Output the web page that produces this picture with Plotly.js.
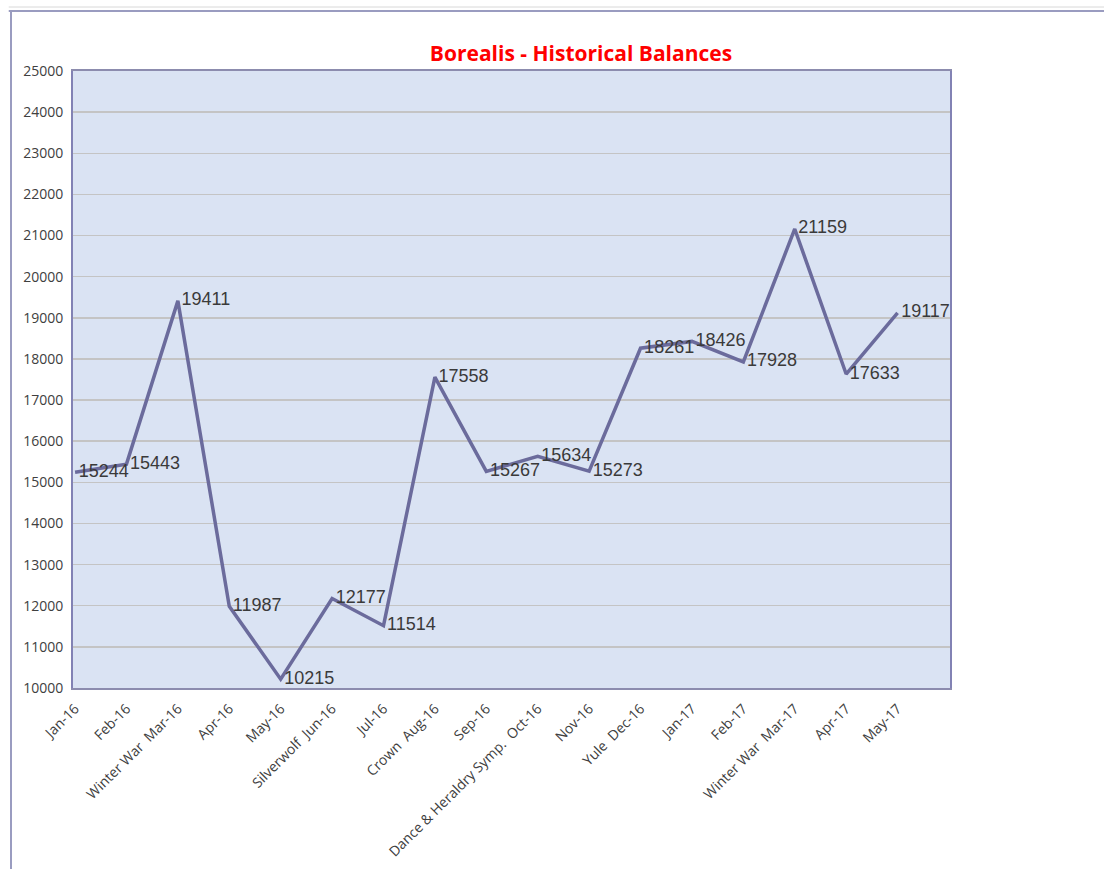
<!DOCTYPE html>
<html>
<head>
<meta charset="utf-8">
<script src="https://cdn.plot.ly/plotly-3.0.1.min.js"></script>
<style>
html, body { margin: 0; padding: 0; background: #ffffff; }
#chart { width: 1104px; height: 869px; }
</style>
</head>
<body>
<div id="chart"></div>
<script>
var categories = ["Jan-16", "Feb-16", "Winter War  Mar-16", "Apr-16", "May-16", "Silverwolf  Jun-16",
  "Jul-16", "Crown  Aug-16", "Sep-16", "Dance & Heraldry Symp.  Oct-16", "Nov-16", "Yule  Dec-16",
  "Jan-17", "Feb-17", "Winter War  Mar-17", "Apr-17", "May-17"];
var balances = [15244, 15443, 19411, 11987, 10215, 12177, 11514, 17558, 15267, 15634, 15273, 18261,
  18426, 17928, 21159, 17633, 19117];
var labels = balances.map(function (v) { return "\u2009" + String(v); });

var trace = {
  type: "scatter",
  mode: "lines+text",
  x: categories,
  y: balances,
  text: labels,
  textposition: "middle right",
  textfont: { family: "Liberation Sans, Arial, sans-serif", size: 18, color: "#3a3a3a" },
  line: { color: "#6b6b9c", width: 3.5 },
  cliponaxis: false,
  hoverinfo: "x+y"
};

var layout = {
  width: 1104,
  height: 869,
  margin: { l: 73, r: 154, t: 71, b: 181 },
  paper_bgcolor: "#ffffff",
  plot_bgcolor: "#dae3f3",
  showlegend: false,
  title: {
    text: "Borealis - Historical Balances",
    font: { family: "Open Sans, Arial, sans-serif", size: 21, color: "#ff0000", weight: "bold" },
    xref: "container", yref: "container",
    x: 581 / 1104, xanchor: "center",
    y: 1 - 54 / 869, yanchor: "middle"
  },
  xaxis: {
    type: "category",
    range: [-0.04, 17.02],
    tickangle: -45,
    showgrid: false,
    zeroline: false,
    showline: true,
    linecolor: "#8c8cae",
    linewidth: 2,
    mirror: true,
    ticks: "",
    ticklabelstandoff: 5,
    tickfont: { family: "Open Sans, Arial, sans-serif", size: 14, color: "#404040" }
  },
  yaxis: {
    range: [10000, 25000],
    dtick: 1000,
    tick0: 10000,
    tickformat: "d",
    showgrid: true,
    gridcolor: "#c4c4c4",
    gridwidth: 1.5,
    zeroline: false,
    showline: true,
    linecolor: "#8282b4",
    linewidth: 2,
    mirror: true,
    ticks: "",
    ticklabelstandoff: 5,
    tickfont: { family: "Open Sans, Arial, sans-serif", size: 14, color: "#404040" }
  },
  shapes: [
    { type: "line", xref: "paper", yref: "paper", layer: "below",
      x0: 11 / 1104 - 73 / 877, x1: 1.2, y0: 1 + 60 / 617, y1: 1 + 60 / 617,
      line: { color: "#9a9cc0", width: 2 } },
    { type: "line", xref: "paper", yref: "paper", layer: "below",
      x0: 11 / 1104 - 73 / 877, x1: 1.2, y0: 1 + 64 / 617, y1: 1 + 64 / 617,
      line: { color: "#d8d8d8", width: 1 } },
    { type: "line", xref: "paper", yref: "paper", layer: "below",
      x0: -62 / 877, x1: -62 / 877, y0: 1 + 60 / 617, y1: -0.35,
      line: { color: "#9a9cc0", width: 2 } }
  ]
};

Plotly.newPlot("chart", [trace], layout, { displayModeBar: false, staticPlot: true });
</script>
</body>
</html>
